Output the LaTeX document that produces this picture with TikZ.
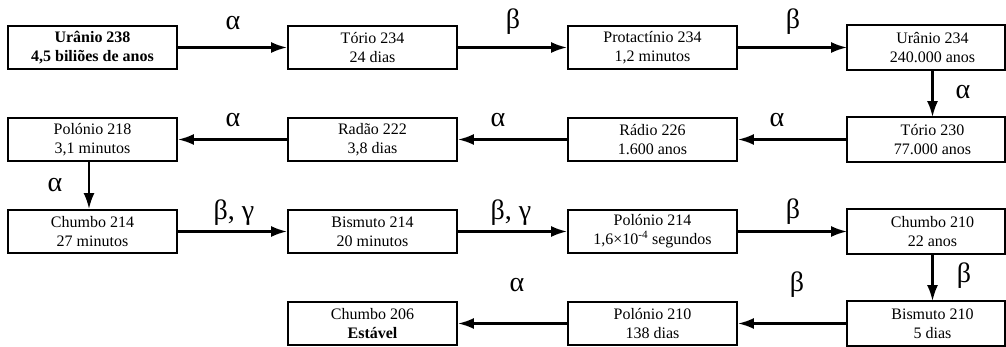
\documentclass[tikz,border=0pt]{standalone}
\usepackage{fontspec}
\setmainfont{Liberation Serif}
\usetikzlibrary{arrows.meta}

\tikzset{
  stage/.style={draw, line width=1.9pt, minimum width=169pt, minimum height=43pt,
    inner sep=0pt, align=center, font=\fontsize{16}{19}\selectfont},
  openstage/.style={stage, draw=none},
  decay/.style={line width=2.3pt, -{Latex[length=16pt,width=11pt]}},
  ray/.style={inner sep=0pt, font=\fontsize{28}{32}\selectfont},
}

\begin{document}
\begin{tikzpicture}[x=1pt, y=-1pt]
\useasboundingbox (0,0) rectangle (1006,347);

% row 1
\node[stage] (u238) at (92.5,47.5) {\textbf{Urânio 238}\\\textbf{4,5 biliões de anos}};
\node[stage] (t234) at (372.5,47.5) {Tório 234\\24 dias};
\node[stage] (p234) at (652.5,47.5) {Protactínio 234\\1,2 minutos};
\node[openstage] (u234) at (932.5,47.5) {Urânio 234\\240.000 anos};

% row 2
\node[stage] (po218) at (92.5,139.5) {Polónio 218\\3,1 minutos};
\node[stage] (rn222) at (372.5,139.5) {Radão 222\\3,8 dias};
\node[stage] (ra226) at (652.5,139.5) {Rádio 226\\1.600 anos};
\node[openstage] (t230) at (932.5,139.5) {Tório 230\\77.000 anos};

% row 3
\node[stage] (pb214) at (92.5,231.5) {Chumbo 214\\27 minutos};
\node[stage] (bi214) at (372.5,231.5) {Bismuto 214\\20 minutos};
\node[stage] (po214) at (652.5,231.5) {Polónio 214\\1,6×10\textsuperscript{-4} segundos};
\node[openstage] (pb210) at (932.5,231.5) {Chumbo 210\\22 anos};

% row 4
\node[stage] (pb206) at (372.5,323.5) {Chumbo 206\\\textbf{Estável}};
\node[stage] (po210) at (652.5,323.5) {Polónio 210\\138 dias};
\node[openstage] (bi210) at (932.5,323.5) {Bismuto 210\\5 dias};

% right-hand column boxes are cut at the edge of the sheet
\foreach \n in {u234,t230,pb210,bi210}
  \draw[line width=1.9pt] (\n.north west) rectangle ([xshift=-13pt]\n.south east);

% decay chain
\draw[decay] (u238.east) -- (t234.west);
\draw[decay] (t234.east) -- (p234.west);
\draw[decay] (p234.east) -- (u234.west);
\draw[decay] (u234.south) -- (t230.north);
\draw[decay] (t230.west) -- (ra226.east);
\draw[decay] (ra226.west) -- (rn222.east);
\draw[decay] (rn222.west) -- (po218.east);
\draw[decay] ([xshift=-3.5pt]po218.south) -- ([xshift=-3.5pt]pb214.north);
\draw[decay] (pb214.east) -- (bi214.west);
\draw[decay] (bi214.east) -- (po214.west);
\draw[decay] (po214.east) -- (pb210.west);
\draw[decay] (pb210.south) -- (bi210.north);
\draw[decay] (bi210.west) -- (po210.east);
\draw[decay] (po210.west) -- (pb206.east);

% emitted radiation
\node[ray] (r1) at (233,23) {α};
\node[ray] (r2) at (513,22) {β};
\node[ray] (r3) at (793,22) {β};
\node[ray] (r4) at (963,92) {α};
\node[ray] (r5) at (777,120) {α};
\node[ray] (r6) at (498,120) {α};
\node[ray] (r7) at (233,120) {α};
\node[ray] (r8) at (55,185) {α};
\node[ray] (r9) at (234,213) {β, γ};
\node[ray] (r10) at (511,213) {β, γ};
\node[ray] (r11) at (793,212) {β};
\node[ray] (r12) at (964,276) {β};
\node[ray] (r13) at (797,285) {β};
\node[ray] (r14) at (517,285) {α};
\end{tikzpicture}
\end{document}
